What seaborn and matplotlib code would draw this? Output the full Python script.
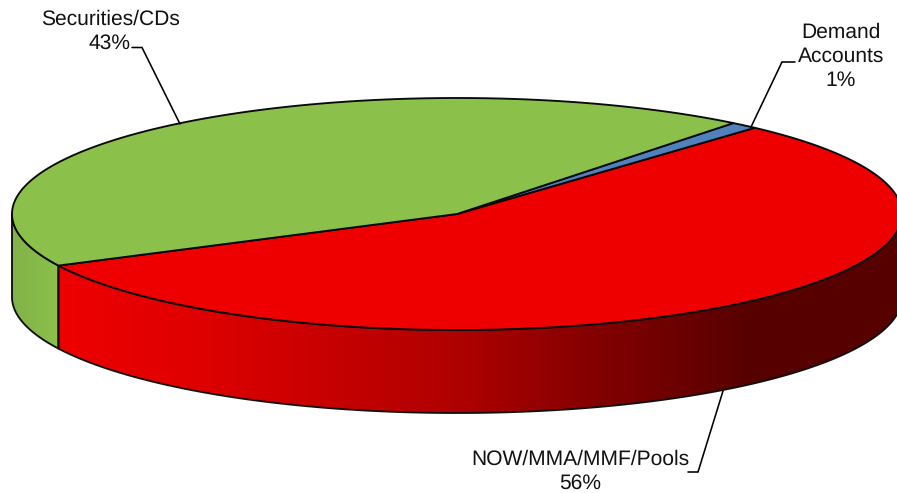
import numpy as np
import matplotlib
matplotlib.use("Agg")
import matplotlib.pyplot as plt
from matplotlib.colors import LinearSegmentedColormap
from matplotlib.patches import Polygon
import seaborn as sns

# Share of balances by account type
categories = ["NOW/MMA/MMF/Pools", "Demand\nAccounts", "Securities/CDs"]
shares = [56, 1, 43]
top_colors = ["#EE0000", "#4F81BD", "#8BC14B"]

# Disc geometry, in figure pixels
CX, CY, RX, RY = 457, 214, 445, 116
DEPTH = 83
FIRST_ANGLE = 206.4

sns.set_theme(style="white")
plt.rcParams["font.family"] = ["Liberation Sans", "DejaVu Sans"]
plt.rcParams["text.hinting"] = "no_hinting"
plt.rcParams["text.hinting_factor"] = 1

fig = plt.figure(figsize=(8.97, 4.93), dpi=100)
ax = fig.add_axes([0, 0, 1, 1])
ax.set_xlim(0, 897)
ax.set_ylim(493, 0)
ax.axis("off")


def rim(start, stop, drop=0.0, n=300):
    t = np.radians(np.linspace(start, stop, n))
    return np.column_stack([CX + RX * np.cos(t), CY - RY * np.sin(t) + drop])


edges = FIRST_ANGLE + np.concatenate([[0], np.cumsum(shares)]) * 3.6
red_start, red_stop = edges[0], edges[1]

# Shaded outer wall, split at the front-left seam between the two visible slices
red_wall = LinearSegmentedColormap.from_list(
    "red_wall",
    [(0.0, "#EE0000"), (0.17, "#DE0000"), (0.47, "#B00000"),
     (0.65, "#800000"), (0.82, "#570000"), (1.0, "#560000")],
)
green_wall = LinearSegmentedColormap.from_list("green_wall", ["#82B248", "#8BC14B"])

walls = [(180.0, red_start, green_wall), (red_start, 360.0, red_wall)]
for start, stop, cmap in walls:
    upper = rim(start, stop)
    lower = rim(start, stop, DEPTH)
    outline = np.vstack([upper, lower[::-1]])
    shape = Polygon(outline, closed=True, facecolor="none", edgecolor="#111111",
                    linewidth=1.35, zorder=3, joinstyle="round")
    ax.add_patch(shape)
    x0, x1 = outline[:, 0].min(), outline[:, 0].max()
    y0, y1 = outline[:, 1].min(), outline[:, 1].max()
    ramp = ax.imshow(np.linspace(0, 1, 512)[None, :], cmap=cmap, aspect="auto",
                     extent=(x0, x1, y1, y0), zorder=2, interpolation="bilinear")
    ramp.set_clip_path(shape)
ax.set_xlim(0, 897)
ax.set_ylim(493, 0)

# Top face of the disc
for i, color in enumerate(top_colors):
    arc = rim(edges[i], edges[i + 1])
    wedge = Polygon(np.vstack([[CX, CY], arc]), closed=True, facecolor=color,
                    edgecolor="#0A0A0A", linewidth=1.35, zorder=4, joinstyle="round")
    ax.add_patch(wedge)

# Callouts with elbow leaders
leaders = [
    ((688, 472), (698, 472), (723, 391)),
    ((795, 62), (782, 62), (751, 127)),
    ((132, 47.5), (142, 47.5), (180, 124)),
]
label_xy = [(580, 471), (841, 56.5), (110, 31)]
for name, share, (lx, ly), path in zip(categories, shares, label_xy, leaders):
    ax.plot(*zip(*path), color="black", linewidth=1.15, zorder=5,
            solid_joinstyle="miter")
    ax.text(lx, ly, f"{name}\n{share}%", ha="center", va="center", ma="center",
            fontsize=15.2, color="#111111", linespacing=1.3, zorder=6)

fig.savefig("out.png", dpi=100, facecolor="white")
